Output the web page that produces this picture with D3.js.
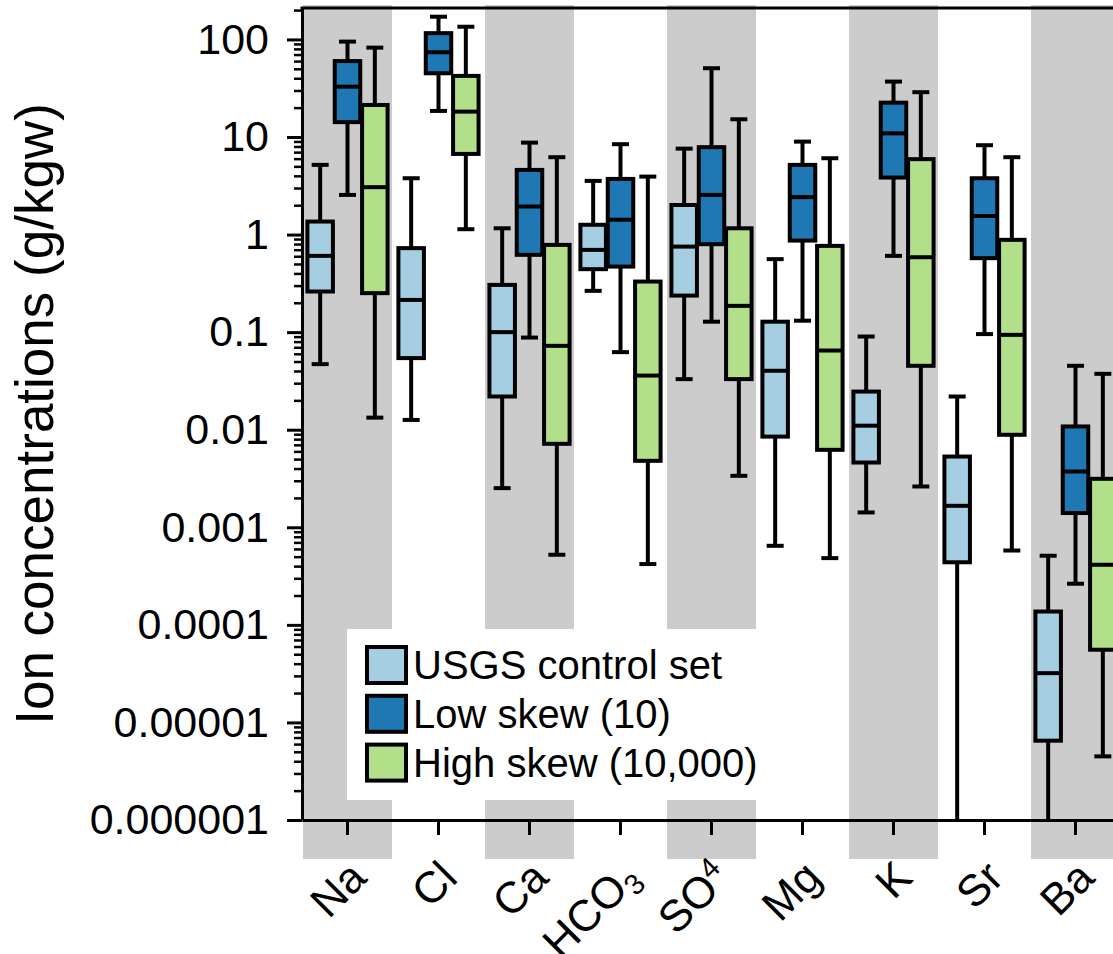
<!DOCTYPE html>
<html>
<head>
<meta charset="utf-8">
<script src="https://cdn.jsdelivr.net/npm/d3@7"></script>
<style>
  body { margin: 0; background: #fff; }
  svg { display: block; font-family: "Liberation Sans", Arial, sans-serif; }
</style>
</head>
<body>
<div id="chart"></div>
<script>
// categories on the x axis
const ions = ['Na', 'Cl', 'Ca', 'HCO3', 'SO4', 'Mg', 'K', 'Sr', 'Ba']
// [text, small script, 'sub' | 'sup']
const ionLabels = [['Na'], ['Cl'], ['Ca'], ['HCO', '3', 'sub'], ['SO', '4', 'sup'], ['Mg'], ['K'], ['Sr'], ['Ba']]
const shadedIons = ['Na', 'Ca', 'SO4', 'K', 'Ba']

const seriesNames = ['USGS control set', 'Low skew (10)', 'High skew (10,000)']
const seriesColors = ['#a6cee3', '#1f78b4', '#b2df8a']

// each row: [whisker low, q1, median, q3, whisker high]  (g/kgw)
const usgs = [
  [0.047, 0.261, 0.605, 1.36, 5.18],
  [0.0126, 0.0542, 0.214, 0.726, 3.78],
  [0.00252, 0.0219, 0.100, 0.305, 1.16],
  [0.265, 0.442, 0.697, 1.26, 3.55],
  [0.033, 0.237, 0.753, 2.01, 7.6],
  [0.000646, 0.0085, 0.0402, 0.128, 0.560],
  [0.00142, 0.00461, 0.011, 0.0246, 0.0902],
  [2e-7, 0.000438, 0.00166, 0.00531, 0.0219],
  [2e-7, 6.5e-6, 3.2e-5, 0.000137, 0.000511]
]
const lowSkew = [
  [2.55, 14.2, 32.8, 60, 95],
  [18.5, 45, 73.9, 116, 171],
  [0.088, 0.62, 1.94, 4.6, 8.76],
  [0.0624, 0.470, 1.42, 3.72, 8.44],
  [0.128, 0.797, 2.55, 7.87, 50.7],
  [0.131, 0.868, 2.42, 5.18, 8.97],
  [0.605, 3.84, 10.9, 22.5, 37],
  [0.0955, 0.573, 1.55, 3.78, 8.24],
  [0.000264, 0.0014, 0.00373, 0.0108, 0.0452]
]
const highSkew = [
  [0.0133, 0.251, 3.06, 21.3, 82.4],
  [1.135, 6.71, 18.2, 42.3, 135],
  [0.000523, 0.00717, 0.0724, 0.784, 6.21],
  [0.00042, 0.0048, 0.0359, 0.330, 3.93],
  [0.00337, 0.033, 0.186, 1.16, 15.2],
  [0.000483, 0.00622, 0.0648, 0.766, 6.06],
  [0.00262, 0.0452, 0.586, 5.93, 28.8],
  [0.000578, 0.00887, 0.0938, 0.883, 6.21],
  [4.49e-6, 5.56e-5, 0.000413, 0.00314, 0.0374]
]

const yTicks = [1e-6, 1e-5, 1e-4, 1e-3, 1e-2, 1e-1, 1, 10, 100]
const yMin = 1e-6, yMax = 210

const W = 1113, H = 954
const plot = { left: 302, top: 8, bottom: 820, step: 91 }
const boxW = 25.5, capW = 17, lineW = 4

const svg = d3.select('#chart').append('svg')
  .attr('width', W)
  .attr('height', H)

const x = d3.scaleBand()
  .domain(ions)
  .range([plot.left, plot.left + ions.length * plot.step])

// position of the three boxes inside one category
const xs = d3.scaleBand()
  .domain(seriesNames)
  .range([4.5, plot.step - 4.5])

const y = d3.scaleLog()
  .domain([yMin, yMax])
  .range([plot.bottom, plot.top])
  .clamp(true)

// grey background columns
svg.append('g')
  .selectAll('rect')
  .data(shadedIons)
  .join('rect')
  .attr('x', d => x(d) + 1)
  .attr('y', plot.top - 3)
  .attr('width', x.bandwidth() - 2)
  .attr('height', plot.bottom - plot.top + 42)
  .attr('fill', '#cccccc')

// legend background
const legend = svg.append('g').attr('transform', 'translate(347,629)')
legend.append('rect')
  .attr('width', 428)
  .attr('height', 171)
  .attr('fill', '#fff')

// y axis, major + minor ticks
const fmt = v => v >= 1 ? String(v) : v.toFixed(Math.round(-Math.log10(v)))

const yAxis = svg.append('g')
  .attr('transform', `translate(${plot.left},0)`)
  .call(d3.axisLeft(y).tickValues(yTicks).tickFormat(fmt).tickSize(15).tickSizeOuter(0).tickPadding(18))
yAxis.attr('font-size', 43).attr('font-family', null)
yAxis.selectAll('text').attr('fill', '#000')
yAxis.selectAll('line').attr('stroke', '#000').attr('stroke-width', 3)
yAxis.select('.domain').attr('stroke', '#000').attr('stroke-width', 3)

const minors = []
yTicks.forEach(t => d3.range(2, 10).forEach(k => { if (t * k <= yMax) minors.push(t * k) }))
const yMinor = svg.append('g')
  .attr('transform', `translate(${plot.left},0)`)
  .call(d3.axisLeft(y).tickValues(minors).tickFormat('').tickSize(8).tickSizeOuter(0))
yMinor.select('.domain').remove()
yMinor.selectAll('line').attr('stroke', '#000').attr('stroke-width', 2.5)

// x axis
const xAxis = svg.append('g')
  .attr('transform', `translate(0,${plot.bottom})`)
  .call(d3.axisBottom(x).tickFormat('').tickSize(15).tickSizeOuter(0))
xAxis.selectAll('line').attr('stroke', '#000').attr('stroke-width', 3)
xAxis.select('.domain').attr('stroke', '#000').attr('stroke-width', 3)

// top frame line
svg.append('line')
  .attr('x1', plot.left - 1.5).attr('x2', W)
  .attr('y1', plot.top).attr('y2', plot.top)
  .attr('stroke', '#000').attr('stroke-width', 3)

// x labels, rotated
const xl = svg.append('g')
  .selectAll('text')
  .data(ions)
  .join('text')
  .attr('transform', d => `translate(${x(d) + x.bandwidth() / 2 + 21},880) rotate(-45)`)
  .attr('text-anchor', 'end')
  .attr('font-size', 44)
  .attr('fill', '#000')
xl.each(function (d, i) {
  const lab = ionLabels[i]
  const t = d3.select(this)
  t.append('tspan').text(lab[0])
  if (lab[1]) {
    t.append('tspan')
      .attr('font-size', 29)
      .attr('dy', lab[2] === 'sub' ? 8 : -15)
      .text(lab[1])
  }
})

// y title
svg.append('text')
  .attr('transform', 'translate(53,414) rotate(-90)')
  .attr('text-anchor', 'middle')
  .attr('font-size', 53)
  .attr('fill', '#000')
  .text('Ion concentrations (g/kgw)')

// box plots
const seriesData = [usgs, lowSkew, highSkew].map((vals, k) => ({
  name: seriesNames[k],
  color: seriesColors[k],
  rows: vals.map((v, i) => ({ ion: ions[i], v: v }))
}))

const boxes = svg.append('g')
  .selectAll('g')
  .data(seriesData)
  .join('g')
  .attr('transform', s => `translate(${xs(s.name) + xs.bandwidth() / 2},0)`)
  .selectAll('g')
  .data(s => s.rows.map(r => ({ ...r, color: s.color })))
  .join('g')
  .attr('transform', d => `translate(${x(d.ion)},0)`)
  .attr('stroke', '#000')
  .attr('stroke-width', lineW)

// whiskers
boxes.append('line')
  .attr('y1', d => y(d.v[0])).attr('y2', d => y(d.v[1]))
boxes.append('line')
  .attr('y1', d => y(d.v[3])).attr('y2', d => y(d.v[4]))
boxes.append('line')
  .attr('x1', -capW / 2).attr('x2', capW / 2)
  .attr('y1', d => y(d.v[4])).attr('y2', d => y(d.v[4]))
boxes.filter(d => d.v[0] >= yMin)
  .append('line')
  .attr('x1', -capW / 2).attr('x2', capW / 2)
  .attr('y1', d => y(d.v[0])).attr('y2', d => y(d.v[0]))

// box + median
boxes.append('rect')
  .attr('x', -boxW / 2)
  .attr('width', boxW)
  .attr('y', d => y(d.v[3]))
  .attr('height', d => y(d.v[1]) - y(d.v[3]))
  .attr('fill', d => d.color)
boxes.append('line')
  .attr('x1', -boxW / 2).attr('x2', boxW / 2)
  .attr('y1', d => y(d.v[2])).attr('y2', d => y(d.v[2]))

// legend entries
const li = legend.selectAll('g')
  .data(seriesNames)
  .join('g')
  .attr('transform', (d, i) => `translate(20,${18 + i * 48.8})`)
li.append('rect')
  .attr('width', 39)
  .attr('height', 36)
  .attr('fill', (d, i) => seriesColors[i])
  .attr('stroke', '#000')
  .attr('stroke-width', lineW)
li.append('text')
  .attr('x', 46)
  .attr('y', 18)
  .attr('dy', '0.35em')
  .attr('font-size', 40)
  .attr('fill', '#000')
  .text(d => d)
</script>
</body>
</html>
